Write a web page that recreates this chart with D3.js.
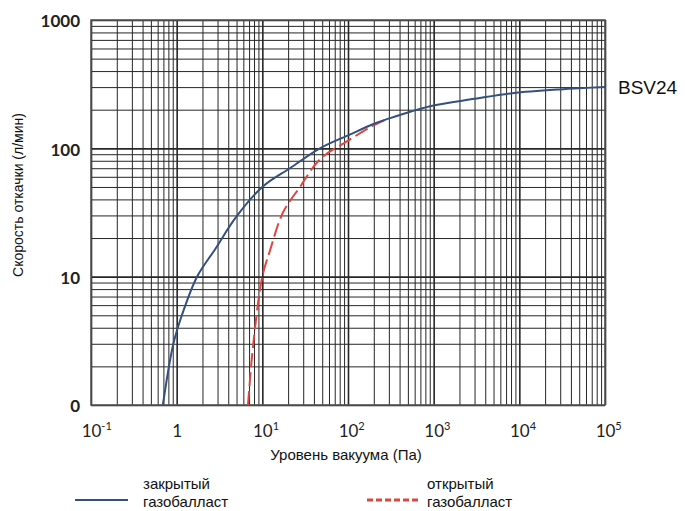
<!DOCTYPE html>
<html>
<head>
<meta charset="utf-8">
<script src="https://cdn.jsdelivr.net/npm/d3@7"></script>
<style>
  body { margin: 0; background: #fff; }
  svg { display: block; }
</style>
</head>
<body>
<div id="chart"></div>
<script>
// pressure (Pa) vs pumping speed (l/min)
const closedPressure = [0.69, 0.91, 1.15, 1.73, 2.8, 5, 10, 21, 47, 105, 195, 280, 910, 3000, 8300, 30000, 100000];
const closedSpeed    = [1, 2.95, 5, 10, 16.3, 29.5, 50, 70, 100, 128, 154, 168, 213, 243, 269, 288, 300];
const openPressure   = [6.8, 7.8, 10, 12.3, 17.4, 27.5, 47, 105, 195, 280];
const openSpeed      = [1, 2.9, 10, 16, 31.6, 50, 82, 117, 150, 168];

const xTickValues = [0.1, 1, 10, 100, 1000, 10000, 100000];
const xTickBase   = ["10", "1", "10", "10", "10", "10", "10"];
const xTickExp    = ["-1", "", "1", "2", "3", "4", "5"];
const yTickValues = [1, 10, 100, 1000];
const yTickLabels = ["0", "10", "100", "1000"];

const seriesName = "BSV24";
const legendNames = [["закрытый", "газобалласт"], ["открытый", "газобалласт"]];

const W = 685, H = 511;
const margin = {left: 91, right: 80, top: 20, bottom: 106};
const width = W - margin.left - margin.right;
const height = H - margin.top - margin.bottom;

const svg = d3.select("#chart").append("svg")
  .attr("width", W).attr("height", H);

const g = svg.append("g")
  .attr("transform", "translate(" + margin.left + "," + margin.top + ")");

const x = d3.scaleLog().domain([0.1, 100000]).range([0, width]);
const y = d3.scaleLog().domain([1, 1000]).range([height, 0]);

// minor grid values (2..9 of each decade)
const xMinor = [];
for (let e = -1; e < 5; e++) for (let m = 2; m <= 9; m++) xMinor.push(m * Math.pow(10, e));
const yMinor = [];
for (let e = 0; e < 3; e++) for (let m = 2; m <= 9; m++) yMinor.push(m * Math.pow(10, e));

const gridColor = "#262626";

// vertical grid
g.append("g")
  .attr("transform", "translate(0," + height + ")")
  .call(d3.axisBottom(x).tickValues(xMinor).tickSize(height).tickFormat(""))
  .call(a => a.select(".domain").remove())
  .selectAll("line")
  .attr("y1", -height).attr("y2", 0)
  .attr("stroke", gridColor).attr("stroke-width", 1);

g.append("g")
  .attr("transform", "translate(0," + height + ")")
  .call(d3.axisBottom(x).tickValues(xTickValues).tickSize(height).tickFormat(""))
  .call(a => a.select(".domain").remove())
  .selectAll("line")
  .attr("y1", -height).attr("y2", 0)
  .attr("stroke", gridColor).attr("stroke-width", 1.6);

// horizontal grid
g.append("g")
  .call(d3.axisLeft(y).tickValues(yMinor).tickSize(-width).tickFormat(""))
  .call(a => a.select(".domain").remove())
  .selectAll("line")
  .attr("stroke", gridColor).attr("stroke-width", 1);

g.append("g")
  .call(d3.axisLeft(y).tickValues(yTickValues).tickSize(-width).tickFormat(""))
  .call(a => a.select(".domain").remove())
  .selectAll("line")
  .attr("stroke", gridColor).attr("stroke-width", 1.6);

g.append("rect")
  .attr("width", width).attr("height", height)
  .attr("fill", "none").attr("stroke", "#555").attr("stroke-width", 1.5);

// y tick labels
const yAxis = g.append("g")
  .call(d3.axisLeft(y).tickValues(yTickValues).tickSize(0).tickPadding(11)
    .tickFormat((d, i) => yTickLabels[i]));
yAxis.select(".domain").remove();
yAxis.selectAll("text")
  .attr("font-family", "Lato, 'Open Sans', sans-serif")
  .attr("font-weight", "bold")
  .attr("font-size", 17)
  .attr("fill", "#222")
  .attr("dy", "0.4em");

// x tick labels with superscripts
const xAxis = g.append("g")
  .attr("transform", "translate(0," + height + ")")
  .call(d3.axisBottom(x).tickValues(xTickValues).tickSize(0).tickPadding(20).tickFormat(""));
xAxis.select(".domain").remove();
xAxis.selectAll(".tick text").each(function(d, i) {
  const t = d3.select(this)
    .attr("font-family", "Lato, 'Open Sans', sans-serif")
    .attr("font-size", 17)
    .attr("fill", "#222")
    .attr("text-anchor", "start");
  t.append("tspan").text(xTickBase[i]);
  if (xTickExp[i]) t.append("tspan").attr("font-size", 11).attr("dy", "-0.6em").text(xTickExp[i]);
  const baseW = t.select("tspan").node().getComputedTextLength();
  t.attr("x", -baseW / 2);
});

// curves
const line = d3.line()
  .x(d => x(d[0]))
  .y(d => y(d[1]))
  .curve(d3.curveCatmullRom.alpha(0.5));

const openData = d3.zip(openPressure, openSpeed);
const closedData = d3.zip(closedPressure, closedSpeed);

g.append("path")
  .datum(openData)
  .attr("d", line)
  .attr("fill", "none")
  .attr("stroke", "#dc4640")
  .attr("stroke-width", 2)
  .attr("stroke-dasharray", "14,5");

g.append("path")
  .datum(closedData)
  .attr("d", line)
  .attr("fill", "none")
  .attr("stroke", "#34507e")
  .attr("stroke-width", 2);

// series label
svg.append("text")
  .attr("x", margin.left + width + 13)
  .attr("y", margin.top + y(300) + 7)
  .attr("font-family", "'Liberation Sans', Arial, sans-serif")
  .attr("font-size", 19)
  .attr("fill", "#111")
  .text(seriesName);

// axis titles
svg.append("text")
  .attr("x", 346).attr("y", 460)
  .attr("text-anchor", "middle")
  .attr("font-family", "'Liberation Sans', Arial, sans-serif")
  .attr("font-size", 15)
  .attr("fill", "#111")
  .text("Уровень вакуума (Па)");

svg.append("text")
  .attr("transform", "translate(23,195) rotate(-90)")
  .attr("text-anchor", "middle")
  .attr("font-family", "'Liberation Sans', Arial, sans-serif")
  .attr("font-size", 14)
  .attr("fill", "#111")
  .text("Скорость откачки (л/мин)");

// legend
const legend = [
  {x1: 75, x2: 128, y: 500, tx: 143, color: "#34507e", dash: null},
  {x1: 367, x2: 420, y: 500, tx: 427, color: "#dc4640", dash: "6,3"}
];
legend.forEach((l, i) => {
  svg.append("line")
    .attr("x1", l.x1).attr("x2", l.x2).attr("y1", l.y).attr("y2", l.y)
    .attr("stroke", l.color).attr("stroke-width", i ? 3 : 2)
    .attr("stroke-dasharray", l.dash);
  const t = svg.append("text")
    .attr("font-family", "'Liberation Sans', Arial, sans-serif")
    .attr("font-size", 15)
    .attr("fill", "#111");
  t.append("tspan").attr("x", l.tx).attr("y", 489).text(legendNames[i][0]);
  t.append("tspan").attr("x", l.tx).attr("y", 507).text(legendNames[i][1]);
});
</script>
</body>
</html>
